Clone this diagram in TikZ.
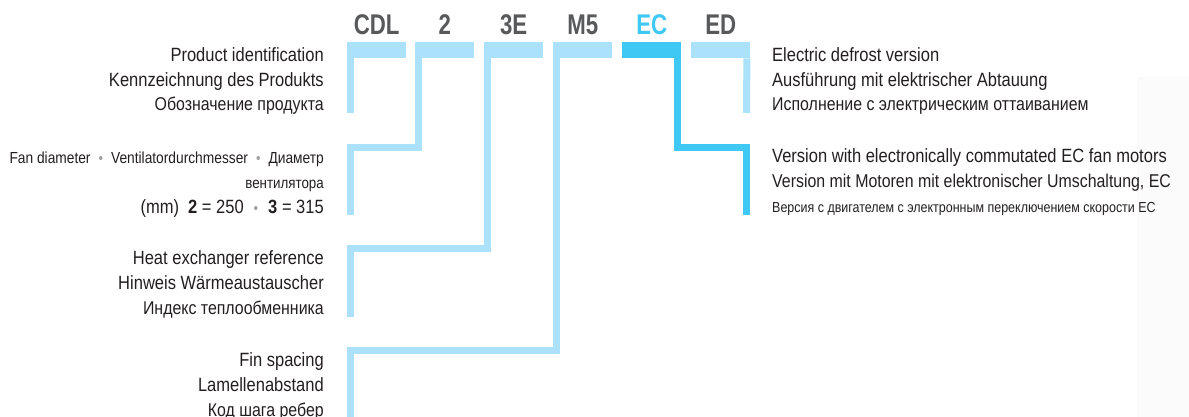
\documentclass[tikz,border=0pt]{standalone}
\usepackage{fontspec}
\setmainfont{Liberation Sans}[FakeStretch=0.86]
\newfontfamily\codefont{Liberation Sans}[FakeStretch=0.78]
\usetikzlibrary{positioning}
\definecolor{barblue}{RGB}{171,225,250}
\definecolor{ecblue}{RGB}{64,200,244}
\definecolor{codegray}{RGB}{88,89,91}
\definecolor{textblack}{RGB}{35,31,32}
\definecolor{dotgray}{RGB}{160,160,160}
\newcommand{\sepdot}{\textcolor{dotgray}{\fontsize{15}{15}\selectfont\textbullet}}
\newcommand{\ru}[1]{{\fontsize{18.5}{24.7}\selectfont #1}}
\tikzset{
  codebar/.style={
    rectangle,
    fill=barblue,
    inner sep=0pt,
    minimum width=59pt,
    minimum height=16pt,
    anchor=north west
  },
  code/.style={
    font=\codefont\bfseries\fontsize{28.5}{28.5}\selectfont,
    text=codegray,
    inner sep=0pt
  },
  leg/.style={
    draw=barblue,
    line width=7pt,
    line join=miter
  },
  desc/.style={
    font=\fontsize{19.2}{24.7}\selectfont,
    text=textblack,
    inner sep=0pt,
    align=right,
    anchor=base east
  },
  descr/.style={
    desc,
    align=left,
    anchor=base west
  }
}
\begin{document}
\begin{tikzpicture}[x=1pt, y=-1pt]
    \useasboundingbox (0,0) rectangle (1189,417);
    \fill[black!1.5] (1137,77) rectangle (1189,417);

    \node[codebar] (barCDL) at (347,42) {};
    \node[codebar] (barTwo) at (415,42) {};
    \node[codebar] (barThreeE) at (484,42) {};
    \node[codebar] (barMFive) at (553,42) {};
    \node[codebar, fill=ecblue] (barEC) at (622,42) {};
    \node[codebar] (barED) at (691,42) {};

    \node[code, above=7pt of barCDL] (cdl) {CDL};
    \node[code, above=7pt of barTwo] (two) {2};
    \node[code, above=7pt of barThreeE] (threeE) {3E};
    \node[code, above=7pt of barMFive] (mFive) {M5};
    \node[code, above=7pt of barEC, text=ecblue] (ec) {EC};
    \node[code, above=7pt of barED] (ed) {ED};

    \coordinate (endCDL) at (350.5,113);
    \coordinate (elbowTwo) at (350.5,147.5);
    \coordinate (endTwo) at (350.5,215);
    \coordinate (elbowThreeE) at (350.5,248.5);
    \coordinate (endThreeE) at (350.5,317);
    \coordinate (elbowMFive) at (350.5,350.5);
    \coordinate (endMFive) at (350.5,420);
    \coordinate (elbowEC) at (746.5,147.5);
    \coordinate (endEC) at (746.5,215);
    \coordinate (endED) at (746.5,113);

    \draw[leg] ([xshift=3.5pt]barCDL.south west) -- (endCDL);
    \draw[leg] ([xshift=3.5pt]barTwo.south west) |- (elbowTwo) -- (endTwo);
    \draw[leg] ([xshift=3.5pt]barThreeE.south west) |- (elbowThreeE) -- (endThreeE);
    \draw[leg] ([xshift=3.5pt]barMFive.south west) |- (elbowMFive) -- (endMFive);
    \draw[leg, draw=ecblue] ([xshift=-3.5pt]barEC.south east) |- (elbowEC) -- (endEC);
    \draw[leg] ([xshift=-3.5pt]barED.south east) -- (endED);

    % base anchor sits on the last line
    \node[desc] (ident) at (324,111) {Product identification\\Kennzeichnung des Produkts\\\ru{Обозначение продукта}};
    \node[desc] (fan) at (324,213) {{\fontsize{16}{24.7}\selectfont Fan diameter\hspace{8pt}\sepdot\hspace{8pt}Ventilatordurchmesser\hspace{8pt}\sepdot\hspace{8pt}Диаметр}\\{\fontsize{15.5}{24.7}\selectfont вентилятора}\\(mm)\hspace{9pt}\textbf{2} = 250\hspace{10pt}\sepdot\hspace{10pt}\textbf{3} = 315};
    \node[desc] (exchanger) at (324,314) {Heat exchanger reference\\Hinweis Wärmeaustauscher\\\ru{Индекс теплообменника}};
    \node[desc] (fins) at (324,416) {Fin spacing\\Lamellenabstand\\\ru{Код шага ребер}};
    \node[descr] (defrost) at (772,111) {Electric defrost version\\Ausführung mit elektrischer Abtauung\\\ru{Исполнение с электрическим оттаиванием}};
    \node[descr] (motors) at (772,212) {Version with electronically commutated EC fan motors\\{\fontsize{18.5}{24.7}\selectfont Version mit Motoren mit elektronischer Umschaltung, EC}\\{\fontsize{14.5}{24.7}\selectfont Версия с двигателем с электронным переключением скорости EC}};
\end{tikzpicture}
\end{document}
